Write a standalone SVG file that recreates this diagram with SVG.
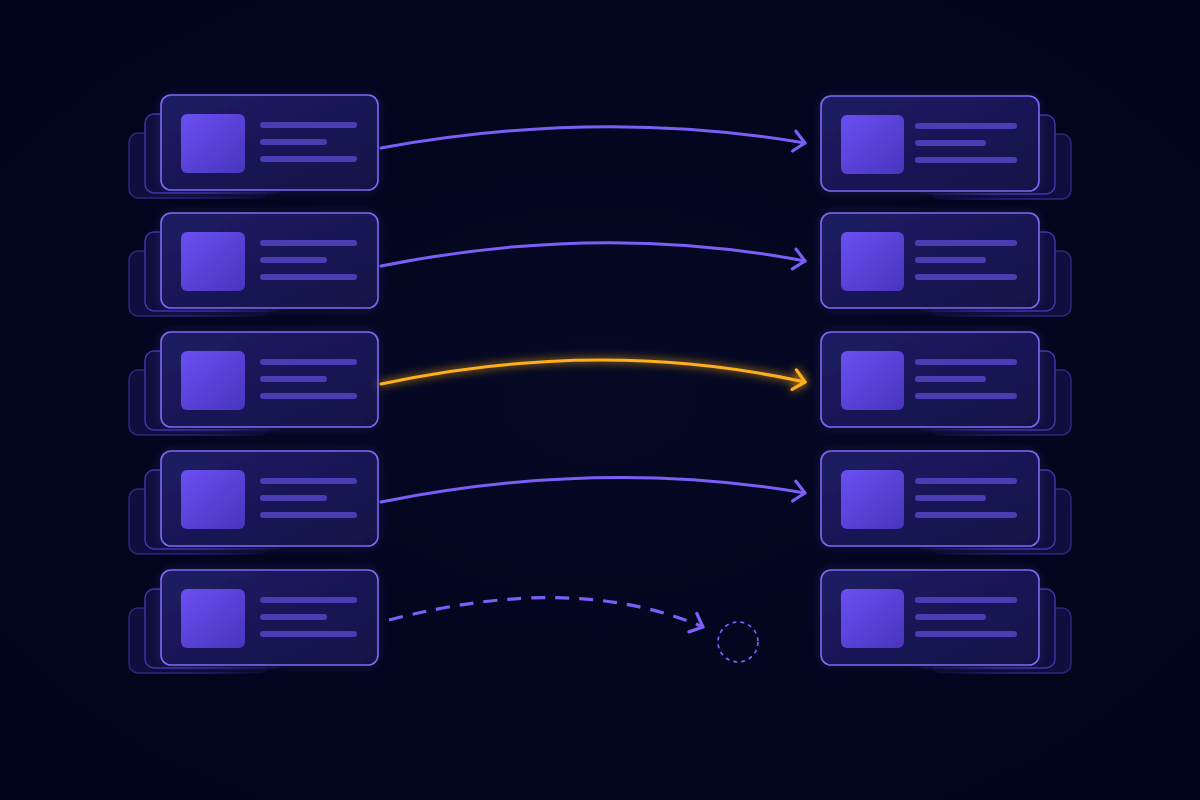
<svg xmlns="http://www.w3.org/2000/svg" xmlns:xlink="http://www.w3.org/1999/xlink" width="1200" height="800" viewBox="0 0 1200 800">
  <defs>
    <linearGradient id="cardFill" x1="0" y1="0" x2="1" y2="1">
      <stop offset="0" stop-color="#1f1c64"/>
      <stop offset="1" stop-color="#131149"/>
    </linearGradient>
    <linearGradient id="backFillL" x1="0" y1="0" x2="1" y2="0">
      <stop offset="0" stop-color="#100e3e"/>
      <stop offset="1" stop-color="#0a0a2e"/>
    </linearGradient>
    <linearGradient id="backFillR" x1="1" y1="0" x2="0" y2="0">
      <stop offset="0" stop-color="#100e3e"/>
      <stop offset="1" stop-color="#0a0a2e"/>
    </linearGradient>
    <linearGradient id="strokeL2" x1="0" y1="0" x2="1" y2="0">
      <stop offset="0" stop-color="#4434b0"/>
      <stop offset="0.45" stop-color="#3a2e98"/>
      <stop offset="1" stop-color="#3a2e98" stop-opacity="0"/>
    </linearGradient>
    <linearGradient id="strokeL3" x1="0" y1="0" x2="1" y2="0">
      <stop offset="0" stop-color="#302784"/>
      <stop offset="0.45" stop-color="#2a2276"/>
      <stop offset="1" stop-color="#2a2276" stop-opacity="0"/>
    </linearGradient>
    <linearGradient id="strokeR2" x1="1" y1="0" x2="0" y2="0">
      <stop offset="0" stop-color="#4434b0"/>
      <stop offset="0.45" stop-color="#3a2e98"/>
      <stop offset="1" stop-color="#3a2e98" stop-opacity="0"/>
    </linearGradient>
    <linearGradient id="strokeR3" x1="1" y1="0" x2="0" y2="0">
      <stop offset="0" stop-color="#302784"/>
      <stop offset="0.45" stop-color="#2a2276"/>
      <stop offset="1" stop-color="#2a2276" stop-opacity="0"/>
    </linearGradient>
    <linearGradient id="sqFill" x1="0" y1="0" x2="1" y2="1">
      <stop offset="0" stop-color="#6a4ff2"/>
      <stop offset="1" stop-color="#4934bd"/>
    </linearGradient>
    <radialGradient id="bgGlow" cx="0.5" cy="0.5" r="0.6">
      <stop offset="0" stop-color="#050924"/>
      <stop offset="1" stop-color="#02041b"/>
    </radialGradient>
    <filter id="glow" x="-10%" y="-60%" width="120%" height="220%">
      <feGaussianBlur in="SourceGraphic" stdDeviation="4" result="b"/>
      <feMerge><feMergeNode in="b"/><feMergeNode in="SourceGraphic"/></feMerge>
    </filter>
    <filter id="cardGlow" x="-20%" y="-30%" width="140%" height="160%">
      <feGaussianBlur in="SourceAlpha" stdDeviation="6" result="b"/>
      <feFlood flood-color="#5b45e0" flood-opacity="0.2"/>
      <feComposite in2="b" operator="in" result="g"/>
      <feMerge><feMergeNode in="g"/><feMergeNode in="SourceGraphic"/></feMerge>
    </filter>
    <marker id="headP" viewBox="0 0 16 24" refX="13" refY="12" markerWidth="16" markerHeight="24" markerUnits="userSpaceOnUse" orient="auto">
      <path d="M2,2 L13,12 L2,22" fill="none" stroke="#7b5ef6" stroke-width="3.2" stroke-linecap="round" stroke-linejoin="round"/>
    </marker>
    <marker id="headO" viewBox="0 0 16 24" refX="13" refY="12" markerWidth="16" markerHeight="24" markerUnits="userSpaceOnUse" orient="auto">
      <path d="M2,2 L13,12 L2,22" fill="none" stroke="#ffae1a" stroke-width="3.2" stroke-linecap="round" stroke-linejoin="round"/>
    </marker>
    <g id="cardL">
      <rect x="-32" y="38" width="140" height="65" rx="9" fill="url(#backFillL)" stroke="url(#strokeL3)" stroke-width="1.4"/>
      <rect x="-16" y="19" width="140" height="79" rx="9" fill="url(#backFillL)" stroke="url(#strokeL2)" stroke-width="1.4"/>
      <rect x="0" y="0" width="217" height="95" rx="10" fill="url(#cardFill)" stroke="#7d69f2" stroke-width="1.6" filter="url(#cardGlow)"/>
      <rect x="20" y="19" width="64" height="59" rx="6" fill="url(#sqFill)"/>
      <line x1="102" y1="30" x2="193" y2="30" class="ln"/>
      <line x1="102" y1="47" x2="163" y2="47" class="ln"/>
      <line x1="102" y1="64" x2="193" y2="64" class="ln"/>
    </g>
    <g id="cardR">
      <rect x="110" y="38" width="140" height="65" rx="9" fill="url(#backFillR)" stroke="url(#strokeR3)" stroke-width="1.4"/>
      <rect x="94" y="19" width="140" height="79" rx="9" fill="url(#backFillR)" stroke="url(#strokeR2)" stroke-width="1.4"/>
      <rect x="0" y="0" width="218" height="95" rx="10" fill="url(#cardFill)" stroke="#7d69f2" stroke-width="1.6" filter="url(#cardGlow)"/>
      <rect x="20" y="19" width="63" height="59" rx="6" fill="url(#sqFill)"/>
      <line x1="97" y1="30" x2="193" y2="30" class="ln"/>
      <line x1="97" y1="47" x2="162" y2="47" class="ln"/>
      <line x1="97" y1="64" x2="193" y2="64" class="ln"/>
    </g>
  </defs>
  <style>
    .ln { stroke: #4a3db3; stroke-width: 6; stroke-linecap: round; }
    .conn { fill: none; stroke: #7b5ef6; stroke-width: 3; stroke-linecap: round; marker-end: url(#headP); }
    .hot { fill: none; stroke: #ffae1a; stroke-width: 3; stroke-linecap: round; marker-end: url(#headO); }
    .dash { fill: none; stroke: #7b5ef6; stroke-width: 3.2; stroke-dasharray: 14 10; stroke-linecap: butt; marker-end: url(#headP); }
  </style>
  <rect width="1200" height="800" fill="url(#bgGlow)"/>

  <g id="left-1" transform="translate(161,95)"><use xlink:href="#cardL" href="#cardL"/></g>
  <g id="left-2" transform="translate(161,213)"><use xlink:href="#cardL" href="#cardL"/></g>
  <g id="left-3" transform="translate(161,332)"><use xlink:href="#cardL" href="#cardL"/></g>
  <g id="left-4" transform="translate(161,451)"><use xlink:href="#cardL" href="#cardL"/></g>
  <g id="left-5" transform="translate(161,570)"><use xlink:href="#cardL" href="#cardL"/></g>

  <g id="right-1" transform="translate(821,96)"><use xlink:href="#cardR" href="#cardR"/></g>
  <g id="right-2" transform="translate(821,213)"><use xlink:href="#cardR" href="#cardR"/></g>
  <g id="right-3" transform="translate(821,332)"><use xlink:href="#cardR" href="#cardR"/></g>
  <g id="right-4" transform="translate(821,451)"><use xlink:href="#cardR" href="#cardR"/></g>
  <g id="right-5" transform="translate(821,570)"><use xlink:href="#cardR" href="#cardR"/></g>

  <g id="empty-target">
    <circle cx="738" cy="642" r="20" fill="none" stroke="#7b5ef6" stroke-width="1.7" stroke-dasharray="4 4"/>
  </g>

  <g id="connectors">
    <path class="conn" d="M381,148 Q600,108 805,143"/>
    <path class="conn" d="M381,266 Q600,222 805,261"/>
    <path class="hot" filter="url(#glow)" d="M381,384 Q600,337 805,382"/>
    <path class="conn" d="M381,502 Q600,458 805,493"/>
    <path class="dash" d="M389,620 Q574,572 703,627"/>
  </g>
</svg>
